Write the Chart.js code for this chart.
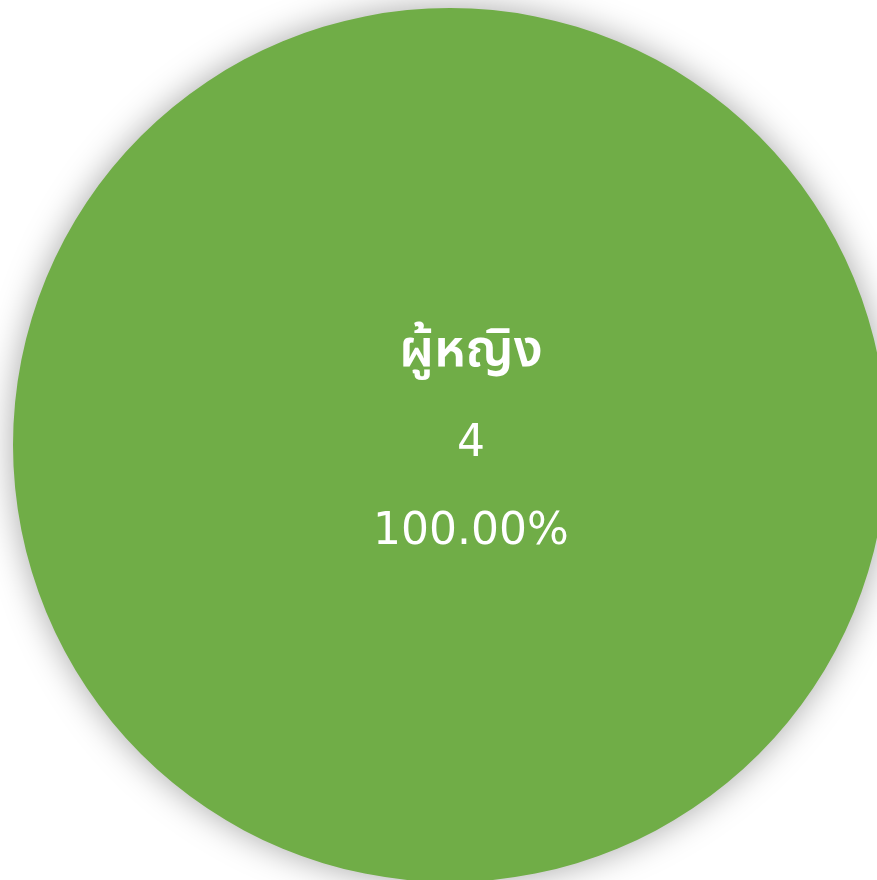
<!DOCTYPE html>
<html>
<head>
<meta charset="utf-8">
<script src="https://cdn.jsdelivr.net/npm/chart.js@4/dist/chart.umd.min.js"></script>
<style>
  html, body { margin: 0; padding: 0; background: #fff; overflow: hidden; }
  #wrap { position: absolute; left: 0; top: 0; width: 920px; height: 900px; }
</style>
</head>
<body>
<div id="wrap"><canvas id="pie"></canvas></div>
<script>
const genderLabels = ['ผู้หญิง'];
const genderCounts = [4];
const sliceColors = ['#70AD47'];

// shadow around the pie
const pieShadow = {
    id: 'pieShadow',
    beforeDatasetsDraw(chart) {
        const ctx = chart.ctx;
        ctx.save();
        ctx.shadowColor = 'rgba(0,0,0,0.35)';
        ctx.shadowBlur = 34;
        ctx.shadowOffsetX = 0;
        ctx.shadowOffsetY = 0;
    },
    afterDatasetsDraw(chart) {
        chart.ctx.restore();
    }
};

// white label in the slice: name, count, percent
const sliceLabels = {
    id: 'sliceLabels',
    afterDraw(chart) {
        const ctx = chart.ctx;
        const data = chart.data.datasets[0].data;
        const total = data.reduce((a, b) => a + b, 0);
        chart.getDatasetMeta(0).data.forEach((arc, i) => {
            let x, y;
            if (data[i] === total) {
                x = arc.x + arc.outerRadius * 0.048;
                y = arc.y;
            } else {
                const p = arc.tooltipPosition();
                x = p.x; y = p.y;
            }
            const pct = (data[i] / total * 100).toFixed(2) + '%';
            ctx.save();
            ctx.fillStyle = '#ffffff';
            ctx.textAlign = 'center';
            ctx.textBaseline = 'middle';
            ctx.font = '600 52px "Noto Sans Thai", "Noto Sans", "Liberation Sans", sans-serif';
            ctx.fillText(chart.data.labels[i], x, y - 90);
            ctx.font = '44px "DejaVu Sans", sans-serif';
            ctx.fillText(String(data[i]), x, y);
            ctx.fillText(pct, x, y + 88);
            ctx.restore();
        });
    }
};

new Chart(document.getElementById('pie').getContext('2d'), {
    type: 'pie',
    data: {
        labels: genderLabels,
        datasets: [{
            data: genderCounts,
            backgroundColor: sliceColors,
            borderWidth: 0,
            hoverOffset: 0
        }]
    },
    options: {
        responsive: true,
        maintainAspectRatio: false,
        animation: false,
        layout: { padding: { left: 13, right: 33, top: 8, bottom: 18 } },
        plugins: {
            legend: { display: false },
            tooltip: { enabled: false }
        }
    },
    plugins: [pieShadow, sliceLabels]
});
</script>
</body>
</html>
